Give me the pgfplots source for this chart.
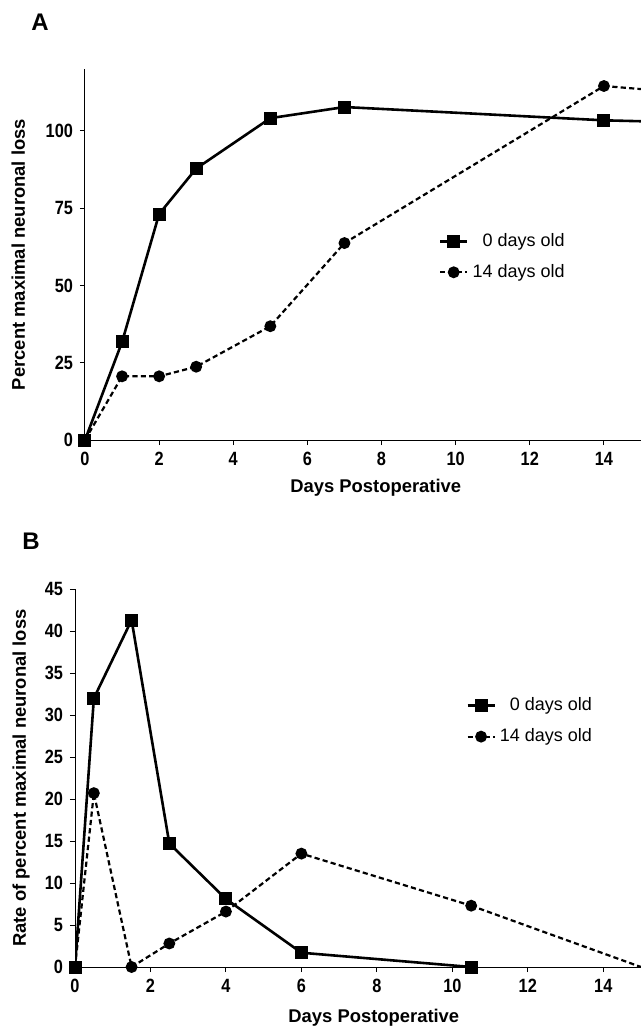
\documentclass[border=0pt]{standalone}
\usepackage{fontspec}
\setmainfont{Liberation Sans}
\newfontfamily\tickfont[FakeStretch=0.85]{Liberation Sans}
\usepackage{pgfplots}
\pgfplotsset{compat=1.18}

\pgfplotsset{
  panel/.style={
    scale only axis,
    axis lines=left,
    axis line style={-, line width=0.5pt},
    tick align=outside, major tick length=2.5pt,
    tick style={line width=0.5pt, black},
    xmin=0, xmax=15, xtick={0,2,...,14},
    tick label style={font=\tickfont\bfseries\fontsize{9.6}{10}\selectfont},
    /pgf/number format/assume math mode=true,
    label style={font=\bfseries\fontsize{9.2}{11}\selectfont},
    legend cell align=left,
    legend style={draw=none, fill=none, anchor=north west,
      font=\fontsize{9}{10.8}\selectfont, row sep=3.5pt},
    legend image code/.code={
      \draw[mark repeat=2, mark phase=2, #1]
        plot coordinates {(0pt,0pt) (6.75pt,0pt) (13.5pt,0pt)};
    },
  },
  sq/.style={black, line width=1.3pt, mark=square*, mark size=2.6pt,
    mark options={solid}},
  ci/.style={black, line width=1.1pt, dash pattern=on 2.6pt off 1.6pt,
    mark=*, mark size=2.4pt, mark options={solid}},
}

\begin{document}
\begin{tikzpicture}
\path[use as bounding box] (0,0) rectangle (320.5pt,-513.5pt);

\node[font=\bfseries\fontsize{12}{14}\selectfont] at (20pt,-11pt) {A};
\node[font=\bfseries\fontsize{12}{14}\selectfont] at (15.5pt,-270.5pt) {B};

% panel A
\begin{axis}[panel,
  at={(42.5pt,-220pt)}, anchor=south west,
  width=278pt, height=185.5pt,
  ymin=0, ymax=120, ytick={0,25,50,75,100},
  xlabel={Days Postoperative},
  ylabel={Percent maximal neuronal loss},
  x label style={at={(axis description cs:0.523,-0.13)}, anchor=center},
  y label style={at={(axis description cs:-0.12,0.5)}, anchor=center},
  legend style={at={(axis description cs:0.625,0.58)}},
]
\addplot[sq] coordinates {
  (0,0) (1,31.7) (2,73.1) (3,87.8) (5,104.1) (7,107.7) (14,103.4)
};
\addlegendentry{\hphantom{1}0 days old}
\addplot[ci] coordinates {
  (0,0) (1,20.6) (2,20.6) (3,23.7) (5,36.8) (7,63.7) (14,114.5)
};
\addlegendentry{14 days old}
\addplot[sq, no marks, forget plot] coordinates {(14,103.4) (21,101.3)};
\addplot[ci, no marks, forget plot] coordinates {(14,114.5) (21,107.5)};
\end{axis}

% panel B
\begin{axis}[panel,
  at={(37.5pt,-483.5pt)}, anchor=south west,
  width=283pt, height=189pt,
  ymin=0, ymax=45, ytick={0,5,...,45},
  xlabel={Days Postoperative},
  ylabel={Rate of percent maximal neuronal loss},
  x label style={at={(axis description cs:0.528,-0.135)}, anchor=center},
  y label style={at={(axis description cs:-0.095,0.5)}, anchor=center},
  legend style={at={(axis description cs:0.68,0.735)}},
]
\addplot[sq] coordinates {
  (0,0) (0.5,32) (1.5,41.3) (2.5,14.7) (4,8.1) (6,1.7) (10.5,0)
};
\addlegendentry{\hphantom{1}0 days old}
\addplot[ci] coordinates {
  (0,0) (0.5,20.7) (1.5,0) (2.5,2.8) (4,6.6) (6,13.5) (10.5,7.3)
};
\addlegendentry{14 days old}
\addplot[ci, no marks, forget plot] coordinates {(10.5,7.3) (15,0)};
\end{axis}
\end{tikzpicture}
\end{document}
